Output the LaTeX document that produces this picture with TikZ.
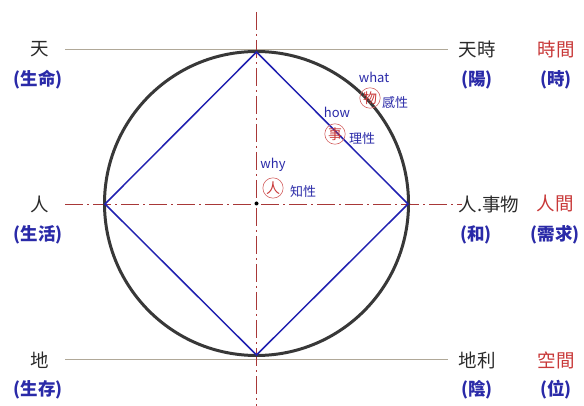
\documentclass[tikz,border=0pt]{standalone}
\usepackage{fontspec}
\setmainfont{Noto Sans CJK TC}
\begin{document}
\begin{tikzpicture}[x=1pt,y=-1pt,
  guide/.style={draw=guidegray,line width=1pt},
  axis/.style={draw=axisred,line width=0.8pt,dash pattern=on 18pt off 4pt on 2pt off 4pt},
  lbl/.style={text=labelgray,font=\fontsize{18.5}{20}\selectfont,inner sep=0pt},
  sub/.style={text=labelblue,font=\bfseries\fontsize{17.5}{19}\selectfont,inner sep=0pt},
  red/.style={text=labelred,font=\fontsize{18.5}{20}\selectfont,inner sep=0pt},
  small/.style={text=labelblue,font=\fontsize{13}{14}\selectfont,inner sep=0pt},
  circ/.style={circle,draw=labelred!80,line width=0.6pt,text=labelred,font=\fontsize{14}{15}\selectfont,inner sep=0.5pt,minimum size=19pt}]
\definecolor{guidegray}{HTML}{B0A898}
\definecolor{axisred}{HTML}{A83838}
\definecolor{labelgray}{HTML}{2A2A2A}
\definecolor{labelblue}{HTML}{2A2AA8}
\definecolor{labelred}{HTML}{C83838}
\definecolor{diamblue}{HTML}{2020B0}
\useasboundingbox (0,0) rectangle (584,406);
% guide line end points
\coordinate (tl) at (65,49.5);
\coordinate (tr) at (448,49.5);
\coordinate (bl) at (65,359);
\coordinate (br) at (448,359);
\coordinate (ml) at (65,204);
\coordinate (mr) at (462,204);
\coordinate (vt) at (256.5,12);
\coordinate (vb) at (256.5,406);
\coordinate (O) at (256.5,203.5);
% diamond vertices
\coordinate (dT) at (256.5,52);
\coordinate (dB) at (256.5,355);
\coordinate (dL) at (105,204);
\coordinate (dR) at (408,204);
\draw[guide] (tl) -- (tr);
\draw[guide] (bl) -- (br);
\draw[axis] (ml) -- (mr);
\draw[axis] (vt) -- (vb);
\draw[draw=black!78,line width=3pt] (O) circle[radius=152];
\draw[draw=diamblue,line width=1.5pt,line join=miter] (dT) -- (dR) -- (dB) -- (dL) -- cycle;
\fill[black] (O) circle[radius=2];
% left labels
\node[lbl] (ten) at (40,49) {天};
\node[sub] (tenS) at (38,80) {(生命)};
\node[lbl] (hito) at (40,204) {人};
\node[sub] (hitoS) at (38,235) {(生活)};
\node[lbl] (chi) at (40,360) {地};
\node[sub] (chiS) at (38,390) {(生存)};
% right labels
\node[lbl] (tenji) at (477,49) {天時};
\node[sub] (tenjiS) at (477,80) {(陽)};
\node[red] (jikan) at (556,49) {時間};
\node[sub] (jikanS) at (556,80) {(時)};
\node[lbl] (jinji) at (489,204) {人.事物};
\node[sub] (jinjiS) at (476,235) {(和)};
\node[red] (ningen) at (555,204) {人間};
\node[sub] (ningenS) at (555,235) {(需求)};
\node[lbl] (chiri) at (477,360) {地利};
\node[sub] (chiriS) at (477,390) {(陰)};
\node[red] (kukan) at (556,360) {空間};
\node[sub] (kukanS) at (556,390) {(位)};
% inner labels
\node[small] (what) at (374,77) {what};
\node[circ] (mono) at (370,98) {物};
\node[small,anchor=west] (kan) at (382,103) {感性};
\node[small] (how) at (337,112) {how};
\node[circ] (koto) at (335,134) {事};
\node[small,anchor=west] (ri) at (349,139) {理性};
\node[small] (why) at (273,165) {why};
\node[circ] (jin) at (273,188) {人};
\node[small,anchor=west] (chisei) at (290,192) {知性};
\end{tikzpicture}
\end{document}
